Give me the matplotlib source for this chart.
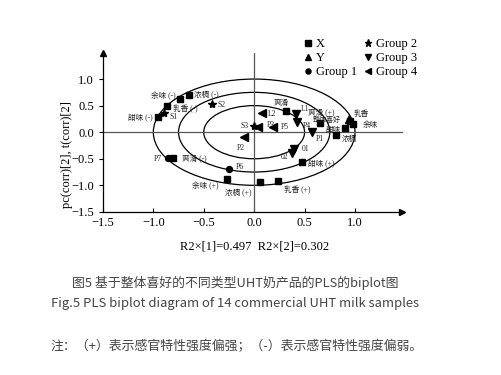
import matplotlib
matplotlib.use("Agg")
from matplotlib import pyplot as plt
from matplotlib.patches import Ellipse

plt.rcParams['font.family'] = ['Liberation Serif', 'Noto Sans CJK SC']

# X variables (squares)
x_names = ['余味 (-)', '浓稠 (-)', '乳香 (-)', '甜味 (-)', '爽滑', '爽滑 (+)', '甜味', '乳香', '余味',
           '浓稠', '爽滑 (-)', '余味 (+)', '浓稠 (+)', '乳香 (+)', '甜味 (+)']
x_px = [-0.74, -0.65, -0.86, -0.95, 0.32, 0.65, 0.90, 0.95, 0.98, 0.81, -0.80, -0.27, 0.06, 0.24, 0.47]
x_py = [0.63, 0.70, 0.49, 0.29, 0.40, 0.18, 0.08, 0.21, 0.16, -0.05, -0.49, -0.89, -0.94, -0.91, -0.56]

# Y variable (triangle up)
y_names = ['整体喜好']
y_px = [0.94]
y_py = [0.24]

# samples
g1_names = ['P6', 'P7']
g1_x = [-0.25, -0.85]
g1_y = [-0.69, -0.48]

g2_names = ['S1', 'S2', 'S3']
g2_x = [-0.89, -0.42, 0.00]
g2_y = [0.37, 0.53, 0.11]

g3_names = ['L1', 'P4', 'P1', '01', '02']
g3_x = [0.41, 0.42, 0.57, 0.40, 0.38]
g3_y = [0.34, 0.19, 0.01, -0.31, -0.39]

g4_names = ['L2', 'P3', 'P5', 'P2']
g4_x = [0.08, 0.04, 0.19, -0.10]
g4_y = [0.37, 0.10, 0.10, -0.09]

# label offsets (points), alignment, size
offs = {
    '余味 (-)': (-3, 2, 'right'), '浓稠 (-)': (4, 0, 'left'), '乳香 (-)': (4, -2, 'left'),
    '甜味 (-)': (-4, 0, 'right'), '爽滑': (-4, 6, 'center'), '爽滑 (+)': (-8.6, 7.2, 'left'),
    '甜味': (-3, -1.5, 'right'), '乳香': (3, 5, 'left'), '余味': (7, -1, 'left'),
    '浓稠': (4, -3, 'left'), '爽滑 (-)': (6, 0, 'left'), '余味 (+)': (-6, -5, 'right'),
    '浓稠 (+)': (-6, -8, 'right'), '乳香 (+)': (4, -7, 'left'), '甜味 (+)': (5, -1, 'left'),
    '整体喜好': (-6, 0, 'right'),
    'P6': (5, 1, 'left'), 'P7': (-5, -1, 'right'),
    'S1': (4, -3, 'left'), 'S2': (4, -1, 'left'), 'S3': (-4, 0, 'right'),
    'L1': (3.6, 3.8, 'left'), 'P4': (4.5, -3, 'left'), 'P1': (3, -5, 'left'),
    '01': (5, 0, 'left'), '02': (-3, -3, 'right'),
    'L2': (4, -1, 'left'), 'P3': (6, 1, 'left'), 'P5': (5, 0, 'left'), 'P2': (-2, -8, 'center'),
}

fig = plt.figure(figsize=(5.02, 3.75), dpi=100)
ax = fig.add_axes([0.205, 0.435, 0.6026, 0.425])
ax.set_xlim(-1.5, 1.5)
ax.set_ylim(-1.5, 1.5)

for r in [1.0, 0.75, 0.5]:
    ax.add_patch(Ellipse((0, 0), 2 * r, 2 * r, fill=False, color='black', lw=0.9))

ax.plot([-1.5, 1.47], [0, 0], color='#555555', lw=0.9)
ax.plot([0, 0], [-1.5, 1.5], color='#555555', lw=0.9)

hx, = ax.plot(x_px, x_py, 's', color='black', ms=4.3, ls='none')
hy, = ax.plot(y_px, y_py, '^', color='black', ms=5.5, ls='none')
h1, = ax.plot(g1_x, g1_y, 'o', color='black', ms=4.3, ls='none')
h2, = ax.plot(g2_x, g2_y, '*', color='black', ms=6, ls='none')
h3, = ax.plot(g3_x, g3_y, 'v', color='black', ms=5.3, ls='none')
h4, = ax.plot(g4_x, g4_y, '<', color='black', ms=5.3, ls='none')

all_names = x_names + y_names + g1_names + g2_names + g3_names + g4_names
all_x = x_px + y_px + g1_x + g2_x + g3_x + g4_x
all_y = x_py + y_py + g1_y + g2_y + g3_y + g4_y
for n, a, b in zip(all_names, all_x, all_y):
    dx, dy, ha = offs[n]
    fs = 5 if n == '整体喜好' else 5.5
    ax.annotate(n, (a, b), xytext=(dx, dy), textcoords='offset points',
                ha=ha, va='center', fontsize=fs, color='#222222')

# axes with arrows
for s in ['top', 'right', 'left', 'bottom']:
    ax.spines[s].set_visible(False)
ax.plot([-1.5, -1.5], [-1.5, 1.5], color='black', lw=0.9, clip_on=False)
ax.plot([-1.5, 1.47], [-1.5, -1.5], color='black', lw=0.9, clip_on=False)
ax.plot([-1.5], [1.5], '^', color='black', ms=5, clip_on=False)
ax.plot([1.47], [-1.5], '>', color='black', ms=5, clip_on=False)

ax.set_xticks([-1.5, -1.0, -0.5, 0.0, 0.5, 1.0])
ax.set_yticks([-1.5, -1.0, -0.5, 0.0, 0.5, 1.0])
ax.tick_params(axis='x', direction='in', length=3, labelsize=9, pad=4)
ax.tick_params(axis='y', direction='out', length=3, labelsize=9)

ax.set_xlabel('R2×[1]=0.497  R2×[2]=0.302', fontsize=9, labelpad=8)
ax.set_ylabel('pc(corr)[2], t(corr)[2]', fontsize=9)
ax.yaxis.set_label_coords(-0.10, 0.36)

ax.legend([hx, hy, h1, h2, h3, h4], ['X', 'Y', 'Group 1', 'Group 2', 'Group 3', 'Group 4'],
          ncol=2, loc='upper left', bbox_to_anchor=(0.594, 0.915), bbox_transform=fig.transFigure,
          frameon=False, fontsize=9, handlelength=0.6, handletextpad=0.3, markerscale=0.85,
          columnspacing=0.6, labelspacing=0.15, borderpad=0)

cap = dict(family=['Noto Sans CJK SC', 'DejaVu Sans'], color='#444444')
fig.text(0.468, 0.245, '图5 基于整体喜好的不同类型UHT奶产品的PLS的biplot图', ha='center', va='center', fontsize=9.3, **cap)
fig.text(0.468, 0.192, 'Fig.5 PLS biplot diagram of 14 commercial UHT milk samples', ha='center', va='center', fontsize=9.4, **cap)
fig.text(0.1, 0.075, '注：（+）表示感官特性强度偏强；（-）表示感官特性强度偏弱。', ha='left', va='center', fontsize=9.3, **cap)

plt.savefig('out.png', dpi=100)
